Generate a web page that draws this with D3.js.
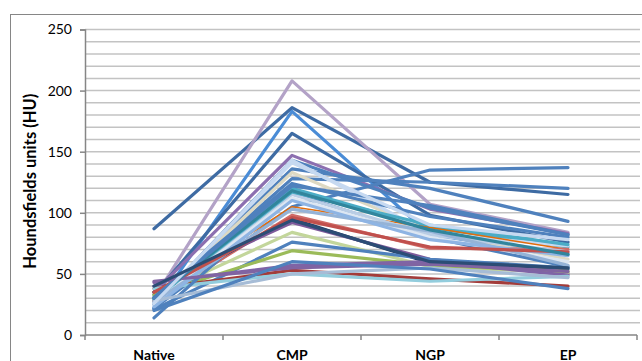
<!DOCTYPE html>
<html>
<head>
<meta charset="utf-8">
<script src="https://cdn.jsdelivr.net/npm/d3@7"></script>
<style>
  body { margin: 0; background: #fff; }
  text { font-family: Lato, "Open Sans", sans-serif; fill: #000; }
</style>
</head>
<body>
<div id="chart"></div>
<script>
// Phases on the x axis
const phases = ['Native', 'CMP', 'NGP', 'EP'];
const yTicks = [0, 50, 100, 150, 200, 250];

// One row per lesion: HU at Native, CMP, NGP, EP
const seriesValues = [
  [87, 186, 125, 115],
  [30, 208, 107, 84],
  [22, 183, 82, 66],
  [33, 165, 98, 76],
  [35, 147, 103, 83],
  [25, 143, 104, 82],
  [22, 105, 135, 137],
  [28, 128, 125, 120],
  [26, 136, 120, 93],
  [30, 120, 88, 72],
  [27, 133, 85, 62],
  [24, 143, 83, 73],
  [32, 105, 88, 70],
  [28, 98, 71, 70],
  [35, 95, 59, 54],
  [40, 92, 62, 50],
  [32, 84, 56, 51],
  [21, 76, 62, 55],
  [33, 69, 57, 52],
  [43, 57, 60, 49],
  [38, 53, 46, 40],
  [38, 50, 44, 48],
  [14, 116, 80, 56],
  [25, 115, 82, 68],
  [26, 112, 80, 60],
  [27, 103, 85, 57],
  [23, 110, 78, 65],
  [29, 117, 90, 74],
  [35, 96, 72, 68],
  [31, 124, 97, 80],
  [28, 50, 55, 47],
  [44, 55, 58, 52],
  [30, 118, 86, 66],
  [30, 122, 106, 82],
  [26, 141, 90, 78],
  [40, 94, 60, 55],
  [20, 60, 54, 38]
];

const seriesColors = [
  '#3e6ba3', '#b3a2c7', '#4a8cd6', '#3e6ba3', '#8c6fb0', '#4f81bd',
  '#4f81bd', '#4f81bd', '#4f81bd', '#4bacc6', '#ddd9c3', '#c6d9f1',
  '#e46c0a', '#d06b66', '#1f3b64', '#7e5a9b', '#c3d69b', '#4f81bd',
  '#9bbb59', '#7f64a6', '#a33c3a', '#93cddd', '#4f81bd', '#b9cde5',
  '#dce6f2', '#95b3d7', '#8eb4e3', '#4bacc6', '#c0504d', '#4f81bd',
  '#a6bcd6', '#8064a2', '#31859c', '#4f81bd', '#c6d9f1', '#2c4d75',
  '#4f81bd'
];

const W = 642, H = 361;
const plotLeft = 85, plotRight = 637, plotTop = 29.5, plotBottom = 335;

const svg = d3.select('#chart').append('svg')
  .attr('width', W)
  .attr('height', H);

// outer chart border
svg.append('rect')
  .attr('x', 10.5).attr('y', 14.5)
  .attr('width', 700).attr('height', 400)
  .attr('fill', 'none')
  .attr('stroke', '#868686')
  .attr('stroke-width', 1);

const x = d3.scalePoint().domain(phases).range([plotLeft, plotRight]).padding(0.5);
const xBand = d3.scaleBand().domain(phases).range([plotLeft, plotRight]);
const y = d3.scaleLinear().domain([0, 250]).range([plotBottom, plotTop]);

// gridlines every 10 HU
svg.append('g')
  .selectAll('line')
  .data(d3.range(10, 251, 10))
  .join('line')
  .attr('x1', plotLeft).attr('x2', plotRight + 3)
  .attr('y1', d => y(d)).attr('y2', d => y(d))
  .attr('stroke', '#c3c3c3')
  .attr('stroke-width', 1.5);

// y axis
const yAxis = d3.axisLeft(y).tickValues(yTicks).tickSize(5).tickPadding(8);
const gy = svg.append('g').attr('transform', `translate(${plotLeft},0)`).call(yAxis);
gy.selectAll('.domain, line').attr('stroke', '#868686').attr('stroke-width', 1.5);
gy.selectAll('text').style('font-size', '14px').attr('fill', '#000');

// x axis with ticks at category boundaries
const gx = svg.append('g').attr('transform', `translate(0,${plotBottom})`);
gx.append('line')
  .attr('x1', plotLeft).attr('x2', plotRight)
  .attr('stroke', '#868686').attr('stroke-width', 1.5);
gx.selectAll('.tick')
  .data(phases.map(p => xBand(p)).concat([plotRight]))
  .join('line')
  .attr('class', 'tick')
  .attr('x1', d => d).attr('x2', d => d)
  .attr('y1', 0).attr('y2', 5)
  .attr('stroke', '#868686').attr('stroke-width', 1.5);
gx.selectAll('.lbl')
  .data(phases)
  .join('text')
  .attr('class', 'lbl')
  .attr('x', d => x(d))
  .attr('y', 25)
  .attr('text-anchor', 'middle')
  .style('font-size', '14px')
  .style('font-weight', 'bold')
  .text(d => d);

// y axis title
svg.append('text')
  .attr('transform', 'rotate(-90)')
  .attr('x', -(plotTop + plotBottom) / 2 + 1)
  .attr('y', 36)
  .attr('text-anchor', 'middle')
  .style('font-size', '16.5px')
  .style('font-weight', 'bold')
  .text('Houndsfields units (HU)');

const line = d3.line()
  .x((d, i) => x(phases[i]))
  .y(d => y(d));

svg.append('g')
  .selectAll('path')
  .data(seriesValues)
  .join('path')
  .attr('d', d => line(d))
  .attr('fill', 'none')
  .attr('stroke', (d, i) => seriesColors[i])
  .attr('stroke-width', (d, i) => seriesColors[i] === '#e46c0a' ? 1.5 : 3.2)
  .attr('stroke-linejoin', 'round')
  .attr('stroke-linecap', 'round');
</script>
</body>
</html>
